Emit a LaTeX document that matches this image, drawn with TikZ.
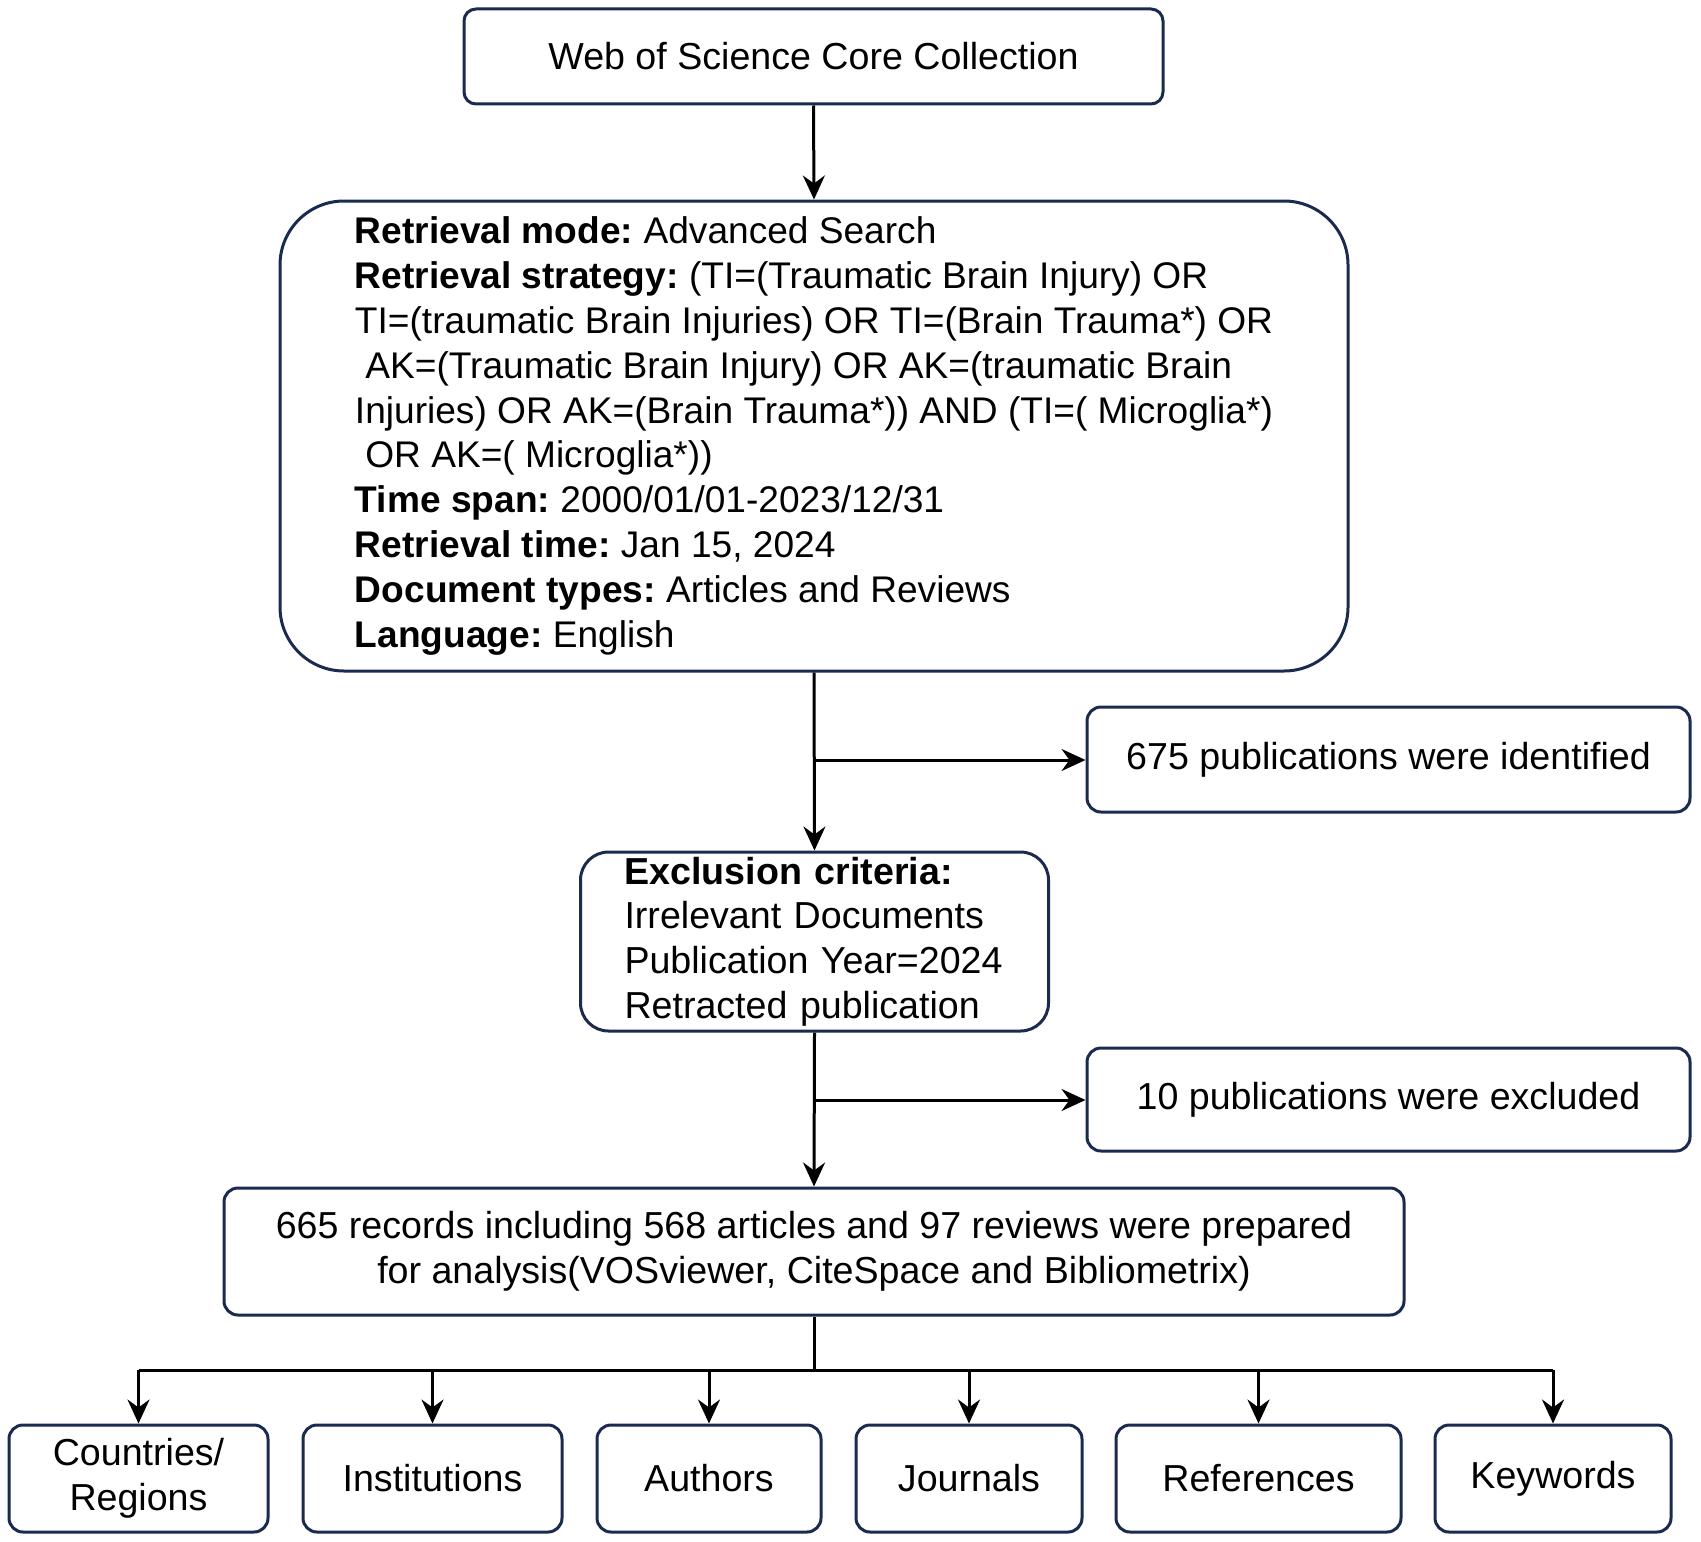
\documentclass[tikz,border=0pt]{standalone}
\usepackage{fontspec}
\setmainfont{Liberation Sans}
\usetikzlibrary{arrows.meta}
\definecolor{boxc}{HTML}{1A2B4F}
\frenchspacing
\begin{document}
\begin{tikzpicture}[x=0.5pt,y=-0.5pt,
  box/.style={draw=boxc,line width=1.5pt,rounded corners=#1,inner sep=0pt,align=center,
    font=\fontsize{18.8}{22.4}\selectfont},
  box/.default=7pt,
  arr/.style={draw=black,line width=1.5pt,-{Stealth[length=12pt,width=11pt,inset=4pt]}},
  ln/.style={draw=black,line width=1.5pt}]
\useasboundingbox (0,0) rectangle (1701,1541);
\fill[white] (0,0) rectangle (1701,1541);

\node[box=6pt,minimum width=349.5pt,minimum height=47.5pt] (wos) at (813.5,56.5) {Web of Science Core Collection};

\node[box=32pt,minimum width=534pt,minimum height=235pt,align=left,font=\fontsize{18.55}{22.4}\selectfont] (ret) at (814,436)
{\textbf{Retrieval mode:} Advanced Search\\
\textbf{Retrieval strategy:} (TI=(Traumatic Brain Injury) OR\\
TI=(traumatic Brain Injuries) OR TI=(Brain Trauma*) OR\\
\hspace*{0.28em}AK=(Traumatic Brain Injury) OR AK=(traumatic Brain\\
Injuries) OR AK=(Brain Trauma*)) AND (TI=( Microglia*)\\
\hspace*{0.28em}OR AK=( Microglia*))\\
\textbf{Time span:} 2000/01/01-2023/12/31\\
\textbf{Retrieval time:} Jan 15, 2024\\
\textbf{Document types:} Articles and Reviews\\
\textbf{Language:} English};

\node[box=7pt,minimum width=301.5pt,minimum height=52.5pt] (ident) at (1388.5,759.5) {675 publications were identified};

\node[box=14pt,minimum width=232.5pt,minimum height=89.5pt,text width=190pt,inner xsep=22pt,align=left] (excl) at (814.5,941.5)
{\textbf{Exclusion criteria:}\\
Irrelevant Documents\\
Publication Year=2024\\
Retracted publication};

\node[box=7pt,minimum width=301.5pt,minimum height=51.5pt] (excd) at (1388.5,1099.5) {10 publications were excluded};

\node[box=7pt,minimum width=590pt,minimum height=63.5pt] (prep) at (814,1251.5)
{665 records including 568 articles and 97 reviews were prepared\\
for analysis(VOSviewer, CiteSpace and Bibliometrix)};

\node[box=7pt,minimum width=129.5pt,minimum height=53.5pt] (cr) at (138.5,1478.5) {Countries/\\Regions};
\node[box=7pt,minimum width=129.5pt,minimum height=53.5pt] (inst) at (432.5,1478.5) {Institutions};
\node[box=7pt,minimum width=112pt,minimum height=53.5pt] (auth) at (709,1478.5) {Authors};
\node[box=7pt,minimum width=113pt,minimum height=53.5pt] (jour) at (969,1478.5) {Journals};
\node[box=7pt,minimum width=142.5pt,minimum height=53.5pt] (refs) at (1258.5,1478.5) {References};
\node[box=7pt,minimum width=118pt,minimum height=53.5pt] (kw) at (1553,1478.5) {Keywords};

\draw[arr] (wos.south) -- (ret.north);
\draw[arr] (ret.south) -- (excl.north);
\coordinate (b1) at (814,760);
\draw[arr] (b1) -- (b1 -| ident.west);
\draw[arr] (excl.south) -- (prep.north);
\coordinate (b2) at (814,1100);
\draw[arr] (b2) -- (b2 -| excd.west);

\coordinate (bus) at (814,1370);
\draw[ln] (prep.south) -- (bus);
\draw[ln] (bus -| cr.north) -- (bus -| kw.north);
\foreach \n in {cr,inst,auth,jour,refs,kw}
  \draw[arr] (bus -| \n.north) -- (\n.north);
\end{tikzpicture}
\end{document}
